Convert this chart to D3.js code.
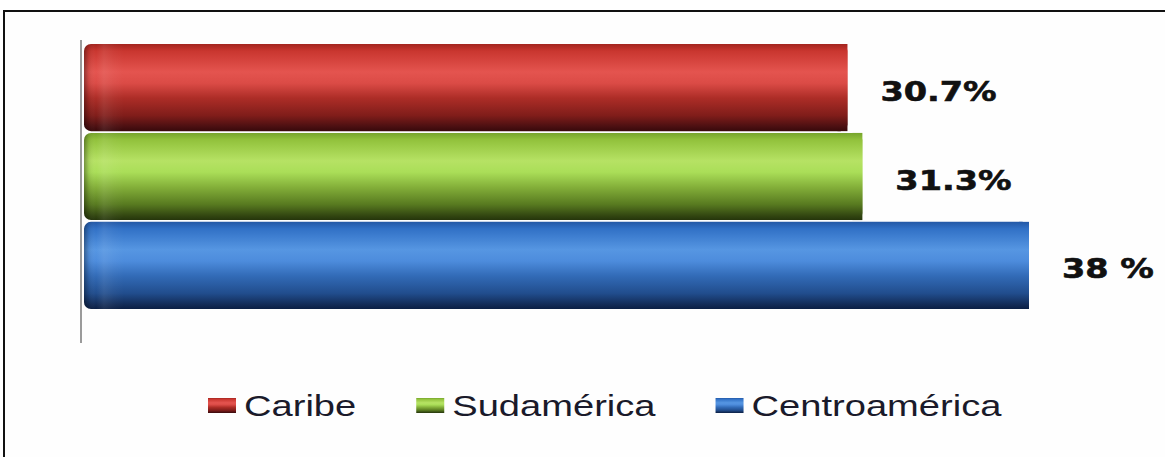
<!DOCTYPE html>
<html>
<head>
<meta charset="utf-8">
<script src="https://cdn.jsdelivr.net/npm/d3@7"></script>
<style>
  html, body { margin: 0; padding: 0; background: #ffffff; }
  svg { display: block; }
</style>
</head>
<body>
<svg id="chart" width="1165" height="457"></svg>
<script>
// Regions and their shares (%)
const categories = ["Caribe", "Sudamérica", "Centroamérica"];
const values = [30.7, 31.3, 38];
const valueLabels = ["30.7%", "31.3%", "38 %"];

// Cylinder shading per series: [offset, colour]
const shades = {
  "Caribe": [[0, "#a3241e"], [0.08, "#c9362f"], [0.32, "#e4544f"], [0.45, "#db4b46"],
             [0.62, "#ad2d27"], [0.82, "#801d1a"], [0.95, "#4a0f11"], [1, "#38090b"]],
  "Sudamérica": [[0, "#76a42c"], [0.08, "#92c23c"], [0.32, "#b6e264"], [0.45, "#aade58"],
                 [0.62, "#84b03a"], [0.82, "#587a20"], [0.95, "#324611"], [1, "#25350b"]],
  "Centroamérica": [[0, "#2358a6"], [0.08, "#3171c6"], [0.32, "#5696e2"], [0.45, "#4d8cdc"],
                    [0.62, "#326bb7"], [0.82, "#214d8d"], [0.95, "#122b56"], [1, "#0b1f44"]]
};

const svg = d3.select("#chart");
const defs = svg.append("defs");

// Outer frame (top and left edges visible)
svg.append("rect")
  .attr("x", 4).attr("y", 11)
  .attr("width", 1300).attr("height", 600)
  .attr("fill", "#fefefe")
  .attr("stroke", "#111").attr("stroke-width", 2);

const plot = { left: 84, right: 1029, top: 44, bottom: 309, axisTop: 40, axisBottom: 343 };

const x = d3.scaleLinear().domain([0, d3.max(values)]).range([plot.left, plot.right]);
const y = d3.scaleBand().domain(categories).range([plot.top, plot.bottom]).paddingInner(0.02);

// Vertical gradients for the cylinder look
categories.forEach((c, i) => {
  const g = defs.append("linearGradient")
    .attr("id", "grad" + i)
    .attr("x1", 0).attr("y1", 0).attr("x2", 0).attr("y2", 1);
  shades[c].forEach(([o, col]) => g.append("stop").attr("offset", o).attr("stop-color", col));
});

// Horizontal overlay giving the rounded left cap
const cap = defs.append("linearGradient")
  .attr("id", "capGrad").attr("x1", 0).attr("y1", 0).attr("x2", 1).attr("y2", 0);
[[0, "#000", 0.35], [0.12, "#000", 0.08], [0.3, "#fff", 0.0], [0.5, "#fff", 0.08],
 [0.75, "#fff", 0.03], [1, "#fff", 0]].forEach(([o, col, op]) =>
  cap.append("stop").attr("offset", o).attr("stop-color", col).attr("stop-opacity", op));

const bars = svg.append("g");
bars.selectAll("rect.bar")
  .data(categories)
  .join("rect")
  .attr("class", "bar")
  .attr("x", x(0))
  .attr("y", d => y(d))
  .attr("width", (d, i) => x(values[i]) - x(0))
  .attr("height", y.bandwidth())
  .attr("rx", 7).attr("ry", 7)
  .attr("fill", (d, i) => `url(#grad${i})`);

// square off the right end
bars.selectAll("rect.end")
  .data(categories)
  .join("rect")
  .attr("class", "end")
  .attr("x", (d, i) => x(values[i]) - 10)
  .attr("y", d => y(d))
  .attr("width", 10)
  .attr("height", y.bandwidth())
  .attr("fill", (d, i) => `url(#grad${i})`);

bars.selectAll("rect.cap")
  .data(categories)
  .join("rect")
  .attr("class", "cap")
  .attr("x", x(0))
  .attr("y", d => y(d))
  .attr("width", 40)
  .attr("height", y.bandwidth())
  .attr("rx", 7).attr("ry", 7)
  .attr("fill", "url(#capGrad)");

// Category axis line
svg.append("line")
  .attr("x1", plot.left - 3).attr("x2", plot.left - 3)
  .attr("y1", plot.axisTop).attr("y2", plot.axisBottom)
  .attr("stroke", "#7a7a7a").attr("stroke-width", 1.5);

// Value labels
const labels = svg.append("g")
  .attr("font-family", "DejaVu Sans, Verdana, sans-serif")
  .attr("font-weight", "bold")
  .attr("font-size", 27)
  .attr("fill", "#111")
  .attr("stroke", "#111").attr("stroke-width", 0.6);

labels.selectAll("text")
  .data(categories)
  .join("text")
  .attr("x", (d, i) => x(values[i]) + 33)
  .attr("y", d => y(d) + y.bandwidth() / 2 + 13)
  .text((d, i) => valueLabels[i])
  .each(function () {
    const w = this.getComputedTextLength();
    d3.select(this).attr("textLength", w * 1.24).attr("lengthAdjust", "spacingAndGlyphs");
  });

// Legend
const legend = svg.append("g")
  .attr("font-family", "Liberation Sans, Arial, sans-serif")
  .attr("font-size", 30)
  .attr("fill", "#1a1a2a");

let lx = 208;
categories.forEach((c, i) => {
  legend.append("rect")
    .attr("x", lx).attr("y", 398)
    .attr("width", 28).attr("height", 15)
    .attr("fill", `url(#grad${i})`);
  const t = legend.append("text")
    .attr("x", lx + 36).attr("y", 416)
    .text(c);
  const w = t.node().getComputedTextLength() * 1.27;
  t.attr("textLength", w).attr("lengthAdjust", "spacingAndGlyphs");
  lx += 36 + w + 60;
});
</script>
</body>
</html>
